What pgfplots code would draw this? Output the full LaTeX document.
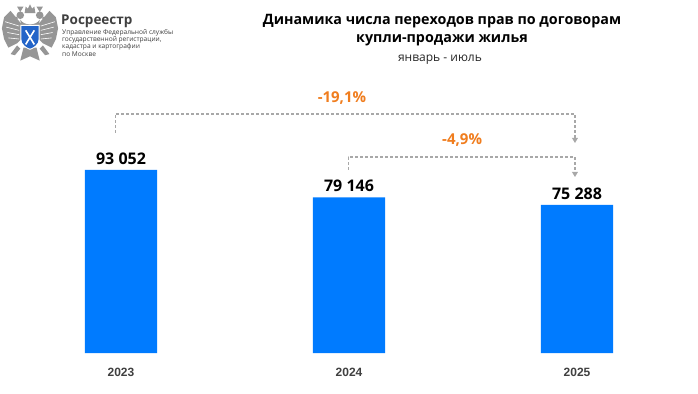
\documentclass[border=0pt]{standalone}
\usepackage{pgfplots}
\pgfplotsset{compat=1.18}
\usepackage{fontspec}
\setmainfont{Open Sans}
\newfontfamily\yearfont{Liberation Sans}
\usetikzlibrary{arrows.meta}
\definecolor{barblue}{RGB}{0,123,255}
\definecolor{pctorange}{RGB}{240,125,30}
\definecolor{dashgray}{RGB}{168,168,168}
\definecolor{yeargray}{RGB}{64,64,64}
\definecolor{logogray}{RGB}{150,150,150}
\definecolor{shieldblue}{RGB}{35,100,200}
\begin{document}
\begin{tikzpicture}[x=1bp,y=1bp]
\fill[white] (0,0) rectangle (698,393);
% ---- logo emblem (simplified) ----
\begin{scope}[shift={(30,354)},scale=1.08]
  % crown
  \fill[logogray] (-4,30) -- (-5,24) -- (5,24) -- (4,30) -- (2,28) -- (0,32) -- (-2,28) -- cycle;
  % heads
  \fill[logogray] (-9,22) circle (3.5);
  \fill[logogray] (9,22) circle (3.5);
  \fill[logogray] (-13,21) -- (-11,19) -- (-15,18) -- cycle;
  \fill[logogray] (13,21) -- (11,19) -- (15,18) -- cycle;
  \fill[logogray] (-9,25) -- (-12,30) -- (-6,30) -- cycle;
  \fill[logogray] (9,25) -- (12,30) -- (6,30) -- cycle;
  % neck / body
  \fill[logogray] (-9,18) .. controls (-6,12) and (6,12) .. (9,18) -- (8,10) -- (-8,10) -- cycle;
  % wings
  \fill[logogray] (-8,14) -- (-18,26) -- (-24,20) -- (-26,10) -- (-24,0) -- (-20,-8) -- (-12,-4) -- (-8,0) -- cycle;
  \fill[logogray] (8,14) -- (18,26) -- (24,20) -- (26,10) -- (24,0) -- (20,-8) -- (12,-4) -- (8,0) -- cycle;
  \foreach \i in {0,1,2,3}{
    \draw[white,line width=0.6] (-10,{12-4*\i}) -- ({-23+\i},{16-5*\i});
    \draw[white,line width=0.6] (10,{12-4*\i}) -- ({23-\i},{16-5*\i});
  }
  % tail and legs
  \fill[logogray] (-6,-8) -- (6,-8) -- (9,-20) -- (0,-16) -- (-9,-20) -- cycle;
  \fill[logogray] (-12,-6) -- (-18,-14) -- (-14,-15) -- (-9,-9) -- cycle;
  \fill[logogray] (12,-6) -- (18,-14) -- (14,-15) -- (9,-9) -- cycle;
  % shield
  \fill[white] (-9,13) -- (9,13) -- (9,0) .. controls (9,-6) and (3,-9) .. (0,-10) .. controls (-3,-9) and (-9,-6) .. (-9,0) -- cycle;
  \fill[shieldblue] (-8,12) -- (8,12) -- (8,0) .. controls (8,-5) and (3,-8) .. (0,-9) .. controls (-3,-8) and (-8,-5) .. (-8,0) -- cycle;
  \draw[white,line width=1.6] (-4,8) -- (4,-5);
  \draw[white,line width=1.6] (4,8) -- (-4,-5);
\end{scope}
% ---- logo text ----
\node[anchor=west,inner sep=0,font=\bfseries\fontsize{13.5bp}{15bp}\selectfont,text=yeargray] at (61,372) {Росреестр};
\begin{scope}[every node/.style={anchor=west,inner sep=0,font=\fontsize{6.6bp}{7bp}\selectfont,text=yeargray}]
\node at (62,360) {Управление Федеральной службы};
\node at (62,353) {государственной регистрации,};
\node at (62,346) {кадастра и картографии};
\node at (62,339) {по Москве};
\end{scope}
% ---- titles ----
\node[font=\bfseries\fontsize{14.3bp}{17.5bp}\selectfont,align=center,text=black] at (442,363) {Динамика числа переходов прав по договорам\\купли-продажи жилья};
\node[font=\fontsize{12bp}{14bp}\selectfont,text=black!85] at (440,333) {январь - июль};
% ---- chart ----
\begin{axis}[
  at={(7bp,40bp)}, anchor=south west,
  scale only axis, width=684bp, height=196.67bp,
  xmin=-0.5, xmax=2.5, ymin=0, ymax=100000,
  clip=false,
  axis line style={draw=none}, tick style={draw=none},
  ytick=\empty,
  xtick={0,1,2}, xticklabels={2023,2024,2025},
  xticklabel style={font=\yearfont\bfseries\fontsize{12bp}{14bp}\selectfont, text=yeargray, yshift=-7bp},
  ybar, bar width=0.316,
]
\addplot[fill=barblue, draw=none,
  nodes near coords, point meta=explicit symbolic,
  every node near coord/.append style={font=\bfseries\fontsize{16bp}{18bp}\selectfont, text=black, yshift=2bp}]
  coordinates {(0,93052)[93 052] (1,79146)[79 146] (2,75288)[75 288]};
% brackets
\draw[dashgray, line width=1.1bp, dash pattern=on 3bp off 2bp]
  (axis cs:-0.026,111866) -- (axis cs:-0.026,121527) -- (axis cs:1.991,121527) -- (axis cs:1.991,108600);
\draw[dashgray, line width=1.1bp, dash pattern=on 3bp off 2bp]
  (axis cs:0.996,93052) -- (axis cs:0.996,99662) -- (axis cs:1.991,99662) -- (axis cs:1.991,91300);
\fill[dashgray] (axis cs:1.991,106781) -- ++(-3bp,5bp) -- ++(6bp,0bp) -- cycle;
\fill[dashgray] (axis cs:1.991,89492) -- ++(-3bp,5bp) -- ++(6bp,0bp) -- cycle;
\node[font=\bfseries\fontsize{15bp}{17bp}\selectfont, text=pctorange] at (axis cs:0.969,129662) {-19,1\%};
\node[font=\bfseries\fontsize{15bp}{17bp}\selectfont, text=pctorange] at (axis cs:1.496,108306) {-4,9\%};
\end{axis}
\end{tikzpicture}
\end{document}
